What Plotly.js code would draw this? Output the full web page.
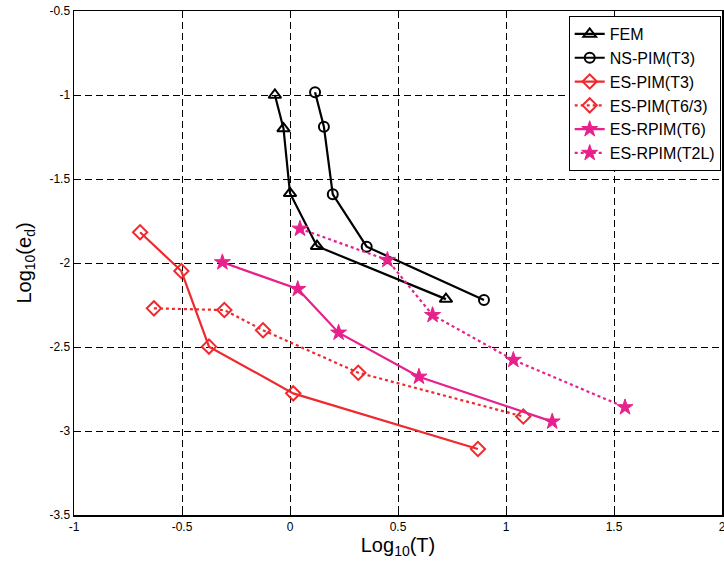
<!DOCTYPE html>
<html>
<head>
<meta charset="utf-8">
<script src="https://cdn.plot.ly/plotly-3.0.1.min.js"></script>
<style>html,body{margin:0;padding:0;background:#fff;}#chart{width:724px;height:564px;}</style>
</head>
<body>
<div id="chart"></div>
<script>
// Data (log10 T, log10 e_d)
const femX = [-0.07, -0.03, 0.0, 0.125, 0.722];
const femY = [-1.00, -1.20, -1.585, -1.90, -2.215];

const nsX = [0.116, 0.157, 0.198, 0.355, 0.898];
const nsY = [-0.984, -1.189, -1.591, -1.903, -2.22];

const esT3X = [-0.694, -0.503, -0.375, 0.015, 0.870];
const esT3Y = [-1.817, -2.048, -2.498, -2.776, -3.107];

const esT63X = [-0.630, -0.304, -0.125, 0.316, 1.080];
const esT63Y = [-2.27, -2.28, -2.40, -2.653, -2.914];

const rpT6X = [-0.313, 0.036, 0.225, 0.597, 1.214];
const rpT6Y = [-1.996, -2.155, -2.415, -2.677, -2.944];

const rpT2LX = [0.046, 0.451, 0.660, 1.034, 1.551];
const rpT2LY = [-1.796, -1.982, -2.31, -2.577, -2.859];

const names = ['FEM', 'NS-PIM(T3)', 'ES-PIM(T3)', 'ES-PIM(T6/3)', 'ES-RPIM(T6)', 'ES-RPIM(T2L)'];
const xTicks = [-1, -0.5, 0, 0.5, 1, 1.5, 2];
const xTickText = ['-1', '-0.5', '0', '0.5', '1', '1.5', '2'];
const yTicks = [-3.5, -3, -2.5, -2, -1.5, -1, -0.5];
const yTickText = ['-3.5', '-3', '-2.5', '-2', '-1.5', '-1', '-0.5'];

const RED = '#ee2a2e';
const MAG = '#e6218c';

function tr(x, y, name, color, dash, symbol, size, mlw) {
  return {
    x: x, y: y, name: name, type: 'scatter', mode: 'lines+markers', cliponaxis: false,
    line: {color: color, width: 2.2, dash: dash},
    marker: {symbol: symbol, size: size, color: color, line: {color: color, width: mlw}}
  };
}

const data = [
  tr(femX, femY, names[0], '#000000', 'solid', 'triangle-up-open', 11, 2),
  tr(nsX, nsY, names[1], '#000000', 'solid', 'circle-open', 10, 2),
  tr(esT3X, esT3Y, names[2], RED, 'solid', 'diamond-open', 11, 2),
  tr(esT63X, esT63Y, names[3], RED, 'dot', 'diamond-open', 11, 2),
  tr(rpT6X, rpT6Y, names[4], MAG, 'solid', 'star', 12, 1),
  tr(rpT2LX, rpT2LY, names[5], MAG, 'dot', 'star', 12, 1)
];

const font = 'Liberation Sans, Arial, Helvetica, sans-serif';
const layout = {
  width: 724, height: 564,
  margin: {l: 74, r: 2, t: 11, b: 49},
  paper_bgcolor: '#fff', plot_bgcolor: '#fff',
  font: {family: font, color: '#000'},
  showlegend: true,
  legend: {
    x: 0.998, xanchor: 'right', y: 0.99, yanchor: 'top',
    bgcolor: '#fff', bordercolor: '#000', borderwidth: 1,
    font: {family: font, size: 16, color: '#000'},
    tracegroupgap: 0, itemwidth: 30
  },
  xaxis: {
    range: [-1, 2], tickvals: xTicks, ticktext: xTickText, ticklabeloverflow: 'allow',
    showgrid: true, gridcolor: '#000', griddash: '7px,4px', gridwidth: 1,
    zeroline: false, showline: true, linecolor: '#000', linewidth: 1.5, mirror: true,
    ticks: 'inside', ticklen: 5, tickcolor: '#000',
    tickfont: {family: font, size: 12, color: '#000'},
    title: {text: 'Log<sub>10</sub>(T)', font: {family: font, size: 20, color: '#000'}, standoff: 5}
  },
  yaxis: {
    range: [-3.5, -0.5], tickvals: yTicks, ticktext: yTickText, ticklabeloverflow: 'allow',
    showgrid: true, gridcolor: '#000', griddash: '7px,4px', gridwidth: 1,
    zeroline: false, showline: true, linecolor: '#000', linewidth: 1.5, mirror: true,
    ticks: 'inside', ticklen: 5, tickcolor: '#000',
    tickfont: {family: font, size: 12, color: '#000'},
    title: {text: 'Log<sub>10</sub>(e<sub>d</sub>)', font: {family: font, size: 20, color: '#000'}, standoff: 12}
  }
};

Plotly.newPlot('chart', data, layout, {displayModeBar: false, staticPlot: true});
</script>
</body>
</html>
